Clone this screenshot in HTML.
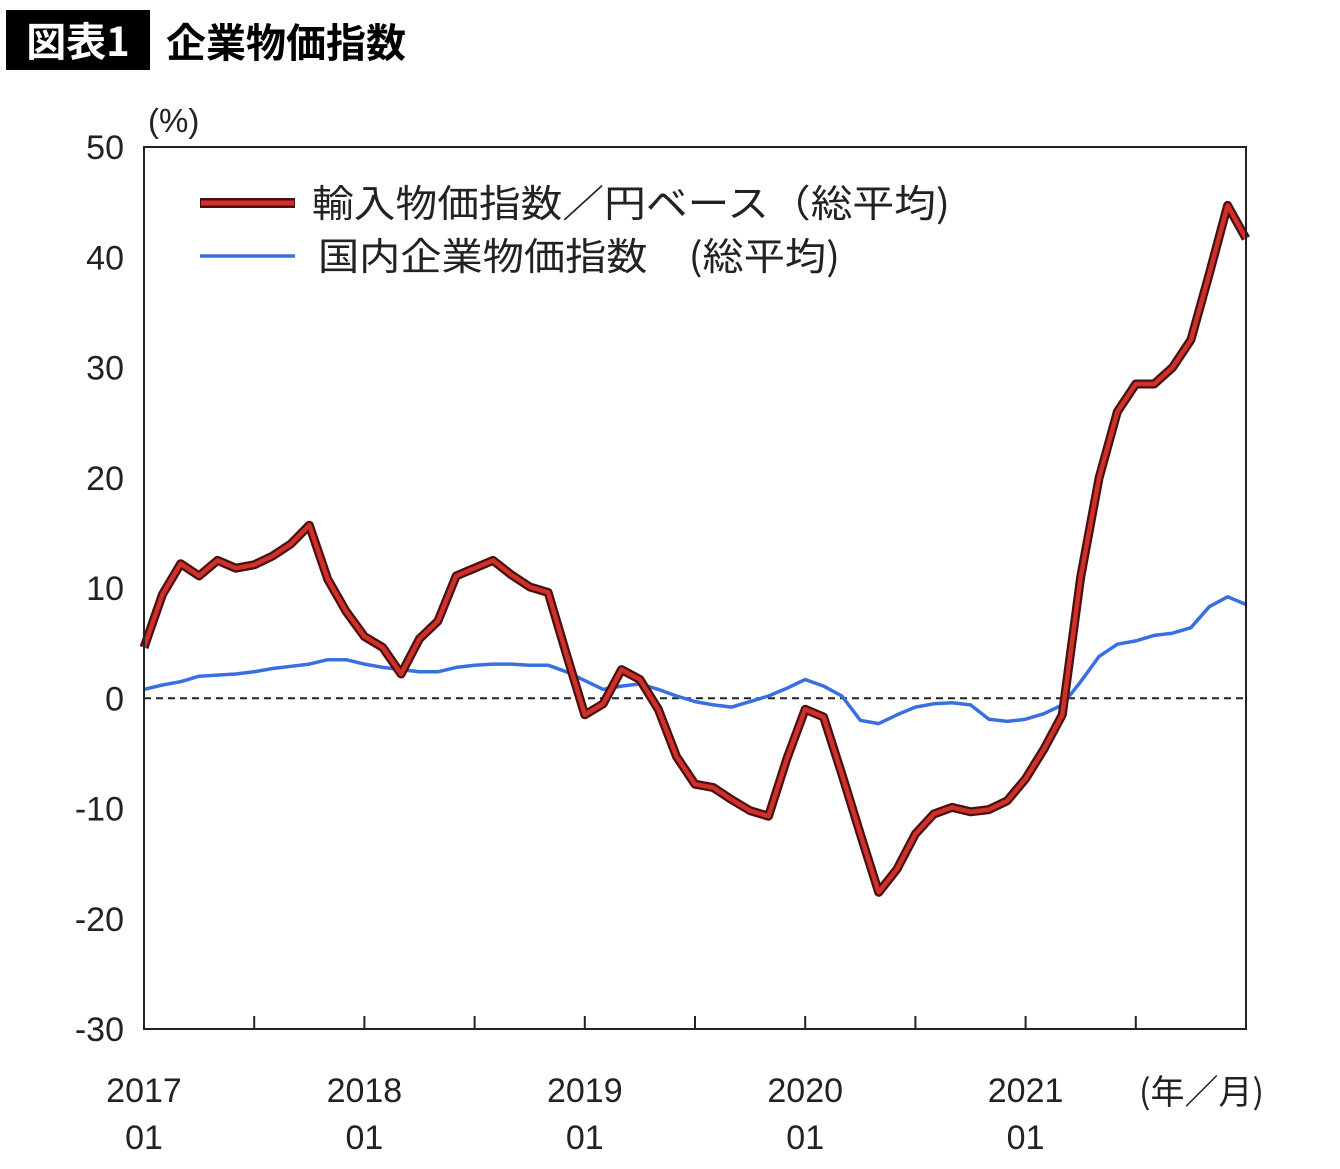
<!DOCTYPE html>
<html><head><meta charset="utf-8">
<style>
body{margin:0;background:#fff;width:1340px;height:1164px;overflow:hidden;font-family:"Liberation Sans","Noto Sans CJK JP",sans-serif;}
</style></head>
<body>
<svg id="chart" width="1340" height="1164" xmlns="http://www.w3.org/2000/svg" font-family="Liberation Sans, Noto Sans CJK JP, sans-serif">
<rect x="6" y="10" width="144" height="60" fill="#000"/>
<text x="78" y="56" font-size="40" font-weight="bold" fill="#fff" text-anchor="middle" font-family="Noto Sans CJK JP, sans-serif">図表1</text>
<text x="166" y="57" font-size="40" font-weight="bold" fill="#000" font-family="Noto Sans CJK JP, sans-serif">企業物価指数</text>
<text x="148" y="132" font-size="33" fill="#222">(%)</text>
<text x="1264" y="1104" font-size="34" fill="#222" text-anchor="end" font-family="Noto Sans CJK JP, sans-serif">(年／月)</text>
<g id="axes"></g>
<g id="series"></g>
<rect x="144" y="147" width="1102" height="882" fill="none" stroke="#222" stroke-width="2"/>
<g>
<line x1="200" y1="203" x2="295" y2="203" stroke="#4a1010" stroke-width="10"/>
<line x1="201" y1="203" x2="294" y2="203" stroke="#d0302a" stroke-width="5"/>
<text x="312" y="217" font-size="38" textLength="638" lengthAdjust="spacingAndGlyphs" fill="#222" font-family="Noto Sans CJK JP, sans-serif">輸入物価指数／円ベース（総平均)</text>
<line x1="200" y1="256" x2="295" y2="256" stroke="#3a6fe0" stroke-width="3.5"/>
<text x="318" y="270" font-size="38" textLength="522" lengthAdjust="spacingAndGlyphs" fill="#222" font-family="Noto Sans CJK JP, sans-serif">国内企業物価指数　(総平均)</text>
</g>
</svg>
<script>
const yTicks=[50,40,30,20,10,0,-10,-20,-30];
const xYears=["2017","2018","2019","2020","2021"];
const xMonths=["01","01","01","01","01"];
const importPrice=[4.6,9.4,12.2,11.1,12.5,11.8,12.1,12.9,14.0,15.7,10.8,7.9,5.6,4.6,2.2,5.4,7.0,11.1,11.8,12.5,11.2,10.1,9.6,4.0,-1.5,-0.5,2.6,1.7,-1.0,-5.3,-7.8,-8.1,-9.2,-10.2,-10.7,-5.5,-1.0,-1.7,-6.9,-12.3,-17.6,-15.5,-12.3,-10.5,-9.9,-10.3,-10.1,-9.3,-7.3,-4.6,-1.5,11,20,26,28.5,28.5,30,32.5,38.5,44.7,41.7];
const domesticPrice=[0.8,1.2,1.5,2.0,2.1,2.2,2.4,2.7,2.9,3.1,3.5,3.5,3.1,2.8,2.6,2.4,2.4,2.8,3.0,3.1,3.1,3.0,3.0,2.4,1.6,0.8,1.1,1.3,0.8,0.2,-0.3,-0.6,-0.8,-0.3,0.2,0.9,1.7,1.1,0.2,-2.0,-2.3,-1.5,-0.8,-0.5,-0.4,-0.6,-1.9,-2.1,-1.9,-1.4,-0.6,1.5,3.8,4.9,5.2,5.7,5.9,6.4,8.3,9.2,8.5];
const NS="http://www.w3.org/2000/svg";
const X0=144,X1=1246,Y0=147,Y1=1029,N=60;
const xs=i=>X0+(X1-X0)*i/N;
const ys=v=>Y0+(50-v)/80*(Y1-Y0);
function mk(t,a,p){const e=document.createElementNS(NS,t);for(const k in a)e.setAttribute(k,a[k]);p.appendChild(e);return e;}
const ax=document.getElementById('axes'),se=document.getElementById('series');
yTicks.forEach(v=>{const t=mk('text',{x:124,y:ys(v)+12,'font-size':34,fill:'#222','text-anchor':'end'},ax);t.textContent=v;

});
for(let i=6;i<N;i+=6){const l=mk('line',{x1:xs(i),x2:xs(i),y1:Y1,y2:Y1-13,stroke:'#222','stroke-width':2},ax);

}
xYears.forEach((y,k)=>{const x=xs(k*12);
const t=mk('text',{x:x,y:1102,'font-size':34,fill:'#222','text-anchor':'middle'},ax);t.textContent=y;


const m=mk('text',{x:x,y:1149,'font-size':34,fill:'#222','text-anchor':'middle'},ax);m.textContent=xMonths[k];

});
const z=mk('line',{x1:X0,x2:X1,y1:ys(0),y2:ys(0),stroke:'#222','stroke-width':2,'stroke-dasharray':'7,5'},ax);


const pts=a=>a.map((v,i)=>xs(i).toFixed(1)+','+ys(v).toFixed(1)).join(' ');
const b=mk('polyline',{points:pts(domesticPrice),fill:'none',stroke:'#3a6fe0','stroke-width':3.5,'stroke-linejoin':'round'},se);


const r1=mk('polyline',{points:pts(importPrice),fill:'none',stroke:'#4a1010','stroke-width':9,'stroke-linejoin':'round'},se);


const r2=mk('polyline',{points:pts(importPrice),fill:'none',stroke:'#d0302a','stroke-width':4.5,'stroke-linejoin':'round'},se);


</script>
</body></html>
